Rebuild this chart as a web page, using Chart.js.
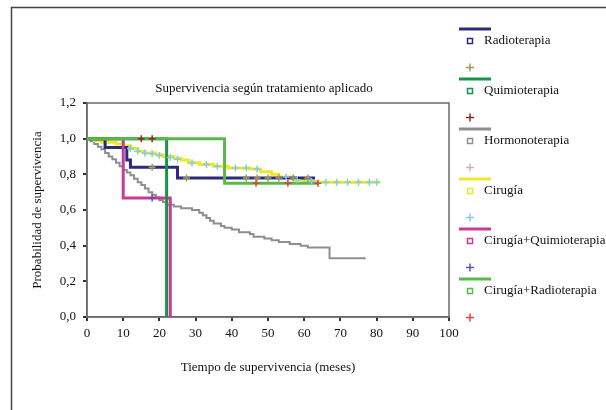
<!DOCTYPE html>
<html>
<head>
<meta charset="utf-8">
<script src="https://cdn.jsdelivr.net/npm/chart.js@4.4.1/dist/chart.umd.min.js"></script>
<style>
  html, body { margin: 0; padding: 0; background: #fff; }
</style>
</head>
<body>
<canvas id="chart" width="606" height="410"></canvas>
<script>
// treatment groups, in legend order
const groups = ["Radioterapia", "Quimioterapia", "Hormonoterapia", "Cirugía", "Cirugía+Quimioterapia", "Cirugía+Radioterapia"];

// Kaplan-Meier steps: [month, survival after that month]
const radioterapia = [[0, 1], [5, 0.95], [11, 0.88], [12, 0.84], [25, 0.78], [63, 0.78]];
const quimioterapia = [[0, 1], [22, 0]];
const hormonoterapia = [
  [0, 1], [1, 0.985], [2, 0.97], [3, 0.955], [4, 0.94], [5, 0.92], [6, 0.9], [7, 0.885],
  [8, 0.865], [9, 0.845], [10, 0.825], [11, 0.81], [12, 0.795], [13, 0.775], [14, 0.755],
  [15, 0.74], [16, 0.72], [17, 0.7], [18, 0.685], [19, 0.67], [20, 0.655], [21, 0.645],
  [22, 0.63], [24, 0.62], [26, 0.61], [29, 0.6], [31, 0.585], [32, 0.57], [33, 0.555],
  [34, 0.54], [35, 0.525], [37, 0.51], [38, 0.5], [40, 0.49], [42, 0.475], [45, 0.465],
  [46, 0.45], [49, 0.44], [51, 0.43], [53, 0.42], [56, 0.41], [59, 0.4], [61, 0.39],
  [67, 0.33], [77, 0.33]
];
const cirugia = [
  [0, 1], [2, 0.99], [4, 0.98], [8, 0.97], [10, 0.96], [12, 0.945], [14, 0.93], [16, 0.92],
  [19, 0.91], [21, 0.9], [24, 0.89], [26, 0.88], [28, 0.865], [31, 0.855], [35, 0.845],
  [39, 0.835], [45, 0.83], [48, 0.815], [51, 0.8], [53, 0.785], [57, 0.77], [60, 0.76],
  [63, 0.755], [81, 0.755]
];
const cirugiaQuimio = [[0, 1], [10, 0.667], [23, 0]];
const cirugiaRadio = [[0, 1], [38, 0.75], [64, 0.75]];

// censored cases (+ marks)
const censRadio = [[18, 0.84], [27.5, 0.78], [44, 0.78], [47, 0.78], [50, 0.78], [53, 0.78], [57, 0.78], [61, 0.78]];
const censQuimio = [[15, 1], [18, 1]];
const censHormono = [];
const censCirugia = [
  [12, 0.945], [14, 0.93], [16, 0.92], [18, 0.915], [20, 0.905], [23, 0.895], [25, 0.885],
  [29, 0.865], [33, 0.855], [36, 0.845], [41, 0.835], [44, 0.835], [47, 0.83], [55, 0.785],
  [58, 0.77], [62, 0.76], [66, 0.755], [69, 0.755], [72, 0.755], [75, 0.755], [78, 0.755], [80, 0.755]
];
const censCirugiaQuimio = [[18, 0.667]];
const censCirugiaRadio = [[46.7, 0.75], [55.5, 0.75], [63.8, 0.75]];

const xTicks = [0, 10, 20, 30, 40, 50, 60, 70, 80, 90, 100];
const yTicks = [0, 0.2, 0.4, 0.6, 0.8, 1.0, 1.2];

const curves = [radioterapia, quimioterapia, hormonoterapia, cirugia, cirugiaQuimio, cirugiaRadio];
const censored = [censRadio, censQuimio, censHormono, censCirugia, censCirugiaQuimio, censCirugiaRadio];
const lineColors = ["#2b2a7c", "#179247", "#8e8e8e", "#f0e62c", "#c83a98", "#58b94a"];
const censorColors = ["#a39a55", "#8e2a22", "#cdb2b2", "#80cde6", "#6c4cb2", "#d8443e"];
const lineWidths = [3, 3, 2, 3, 3, 3];
const drawOrder = [3, 1, 5, 4, 2, 0];

const serif = "'Liberation Serif', 'DejaVu Serif', serif";
const toPoints = arr => arr.map(([x, y]) => ({ x, y }));

const datasets = [];
groups.forEach((name, i) => {
  datasets.push({
    label: name,
    data: toPoints(curves[i]),
    showLine: true,
    stepped: "before",
    borderColor: lineColors[i],
    borderWidth: lineWidths[i],
    pointRadius: 0,
    fill: false,
    order: drawOrder[i] + 10,
  });
  datasets.push({
    label: name + " censurado",
    data: toPoints(censored[i]),
    showLine: false,
    pointStyle: "cross",
    pointRadius: 3.5,
    pointBorderWidth: 1.5,
    borderColor: censorColors[i],
    backgroundColor: censorColors[i],
    order: 1,
  });
});

// frame, plot box, title and the side legend
const decorations = {
  id: "decorations",
  beforeDatasetsDraw(chart) {
    const { ctx, chartArea: a } = chart;
    ctx.save();
    ctx.strokeStyle = "#6a6a6a";
    ctx.lineWidth = 1.5;
    ctx.strokeRect(a.left, a.top, a.right - a.left, a.bottom - a.top);
    ctx.restore();
  },
  afterDraw(chart) {
    const { ctx, chartArea: a } = chart;
    ctx.save();
    // outer frame (top and left)
    ctx.strokeStyle = "#444";
    ctx.lineWidth = 1.5;
    ctx.beginPath();
    ctx.moveTo(606, 7.5);
    ctx.lineTo(11.5, 7.5);
    ctx.lineTo(11.5, 410);
    ctx.stroke();

    // title
    ctx.fillStyle = "#111";
    ctx.font = "13px " + serif;
    ctx.textAlign = "center";
    ctx.textBaseline = "middle";
    ctx.fillText("Supervivencia según tratamiento aplicado", (a.left + a.right) / 2 - 4, 89);

    // legend
    ctx.textAlign = "left";
    groups.forEach((name, i) => {
      const y = 29 + i * 50;
      ctx.strokeStyle = lineColors[i];
      ctx.lineWidth = 3;
      ctx.beginPath();
      ctx.moveTo(459, y);
      ctx.lineTo(491, y);
      ctx.stroke();

      ctx.lineWidth = 1.5;
      ctx.strokeRect(467.5, y + 9.5, 5, 5);
      ctx.fillStyle = "#111";
      ctx.fillText(name, 484, y + 12);

      ctx.strokeStyle = censorColors[i];
      ctx.beginPath();
      ctx.moveTo(466, y + 38.5);
      ctx.lineTo(474, y + 38.5);
      ctx.moveTo(470, y + 34.5);
      ctx.lineTo(470, y + 42.5);
      ctx.stroke();
    });
    ctx.restore();
  },
};

new Chart(document.getElementById("chart"), {
  type: "scatter",
  data: { datasets },
  options: {
    responsive: false,
    animation: false,
    layout: { padding: { left: 26, top: 103, right: 157, bottom: 31 } },
    plugins: { legend: { display: false }, tooltip: { enabled: false }, title: { display: false } },
    scales: {
      x: {
        type: "linear",
        min: 0,
        max: 100,
        afterBuildTicks: s => { s.ticks = xTicks.map(v => ({ value: v })); },
        afterFit: s => { s.height = 62; },
        ticks: { color: "#111", font: { family: serif, size: 13 }, padding: 5 },
        grid: { drawOnChartArea: false, drawTicks: true, tickLength: 4, color: "#333", lineWidth: 2 },
        border: { color: "#6a6a6a", width: 1.5 },
        title: { display: true, text: "Tiempo de supervivencia (meses)", color: "#111", font: { family: serif, size: 13 } },
      },
      y: {
        type: "linear",
        min: 0,
        max: 1.2,
        afterBuildTicks: s => { s.ticks = yTicks.map(v => ({ value: v })); },
        afterFit: s => { s.width = 61; },
        ticks: {
          color: "#111",
          font: { family: serif, size: 13 },
          padding: 7,
          callback: v => v.toFixed(1).replace(".", ","),
        },
        grid: { drawOnChartArea: false, drawTicks: true, tickLength: 4, color: "#333", lineWidth: 2 },
        border: { color: "#6a6a6a", width: 1.5 },
        title: { display: true, text: "Probabilidad de supervivencia", color: "#111", font: { family: serif, size: 13 } },
      },
    },
  },
  plugins: [decorations],
});
</script>
</body>
</html>
